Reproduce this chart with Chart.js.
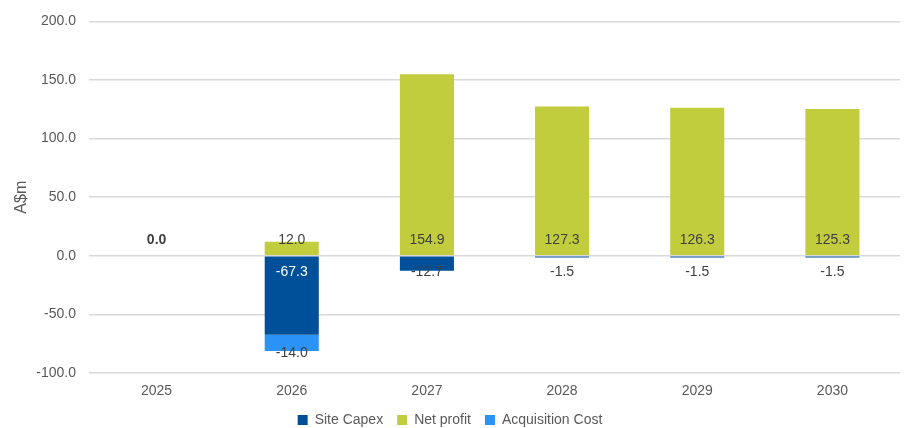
<!DOCTYPE html>
<html>
<head>
<meta charset="utf-8">
<script src="https://cdn.jsdelivr.net/npm/chart.js@4.4.1/dist/chart.umd.min.js"></script>
<style>
  html, body { margin: 0; padding: 0; background: #fff; }
  #wrap { width: 906px; height: 428px; }
</style>
</head>
<body>
<div id="wrap"><canvas id="cashflow_chart"></canvas></div>
<script>
const years = ['2025', '2026', '2027', '2028', '2029', '2030'];
const site_capex = [null, -67.3, -12.7, -1.5, -1.5, -1.5];
const net_profit = [0.0, 12.0, 154.9, 127.3, 126.3, 125.3];
const acquisition_cost = [null, -14.0, null, null, null, null];
const y_ticks = [-100, -50, 0, 50, 100, 150, 200];

const TXT = '#404040';
const FONT = "'Liberation Sans', Arial, sans-serif";

// writes the value labels on each segment
const barLabels = {
  id: 'barLabels',
  afterDatasetsDraw(chart) {
    const ctx = chart.ctx;
    const zeroY = chart.scales.y.getPixelForValue(0);
    ctx.save();
    ctx.textAlign = 'center';
    ctx.textBaseline = 'middle';
    chart.data.datasets.forEach((ds, di) => {
      const meta = chart.getDatasetMeta(di);
      meta.data.forEach((bar, i) => {
        const v = ds.data[i];
        if (v === null || v === undefined) return;
        let y, color = TXT, weight = 'normal';
        if (ds.label === 'Net profit') {
          y = zeroY - 16;
          if (v === 0) weight = 'bold';
        } else if (ds.label === 'Site Capex') {
          y = zeroY + 16;
          if (Math.abs(bar.y - bar.base) > 30) color = '#ffffff';
        } else {
          y = bar.y + 2;
        }
        ctx.font = weight + ' 14px ' + FONT;
        ctx.fillStyle = color;
        ctx.fillText(v.toFixed(1), bar.x, y);
      });
    });
    ctx.restore();
  }
};

new Chart(document.getElementById('cashflow_chart'), {
  type: 'bar',
  data: {
    labels: years,
    datasets: [
      { label: 'Site Capex', data: site_capex, backgroundColor: '#004F99', stack: 's' },
      { label: 'Net profit', data: net_profit, backgroundColor: '#C1CD3D', stack: 's' },
      { label: 'Acquisition Cost', data: acquisition_cost, backgroundColor: '#2B93F5', stack: 's' }
    ]
  },
  options: {
    responsive: true,
    maintainAspectRatio: false,
    animation: false,
    categoryPercentage: 0.4,
    barPercentage: 1.0,
    layout: { padding: { left: 0, right: 6, top: 10, bottom: -9 } },
    plugins: {
      legend: {
        position: 'bottom',
        labels: {
          boxWidth: 10,
          boxHeight: 10,
          padding: 14,
          color: '#595959',
          font: { family: FONT, size: 14 }
        }
      },
      tooltip: { enabled: false }
    },
    scales: {
      x: {
        stacked: true,
        afterFit(axis) { axis.height = 26; },
        grid: { display: false, drawTicks: false },
        border: { display: false },
        ticks: { color: '#595959', font: { family: FONT, size: 14 }, padding: 10 }
      },
      y: {
        stacked: true,
        min: -100,
        max: 200,
        afterBuildTicks(axis) { axis.ticks = y_ticks.map(v => ({ value: v })); },
        afterFit(axis) { axis.width = 89; },
        grid: { color: '#D9D9D9', lineWidth: 1.5, drawTicks: false },
        border: { display: false },
        ticks: {
          color: '#595959',
          padding: 13,
          font: { family: FONT, size: 14 },
          callback: v => Number(v).toFixed(1)
        },
        title: {
          display: true,
          text: 'A$m',
          color: '#595959',
          font: { family: FONT, size: 16 },
          padding: { top: 12, bottom: 0 }
        }
      }
    }
  },
  plugins: [barLabels]
});
</script>
</body>
</html>
